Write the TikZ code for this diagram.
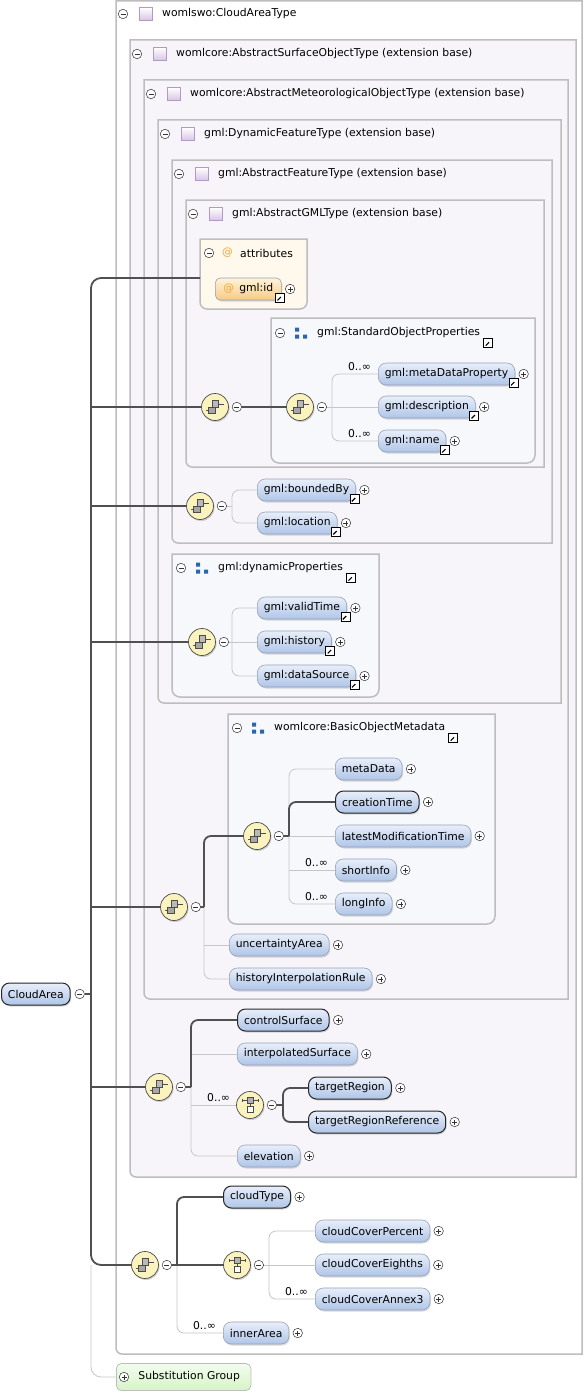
\documentclass[tikz,border=0pt]{standalone}
\usepackage{fontspec}
\setmainfont{DejaVu Sans}
\usetikzlibrary{positioning,shadows}

\definecolor{boxline}{HTML}{BDBDBD}
\definecolor{boxfill}{HTML}{F8F5FA}
\definecolor{grpfill}{HTML}{F6F8FC}
\definecolor{attrfill}{HTML}{FFF8EC}
\definecolor{pilltop}{HTML}{E8EFFA}
\definecolor{pillbot}{HTML}{AFC5E8}
\definecolor{pillline}{HTML}{95A2B8}
\definecolor{idtop}{HTML}{FFF3DA}
\definecolor{idbot}{HTML}{F7CB84}
\definecolor{atsign}{HTML}{EFA83A}
\definecolor{seqfill}{HTML}{FAF3BE}
\definecolor{strongline}{HTML}{505050}
\definecolor{faintline}{HTML}{C6C6C6}
\definecolor{typeline}{HTML}{B39AC4}
\definecolor{typefill}{HTML}{D9C3E4}
\definecolor{grpblue}{HTML}{2A66AE}
\definecolor{substtop}{HTML}{F2FCEE}
\definecolor{substbot}{HTML}{D6F3C8}

\begin{document}
\begin{tikzpicture}[
    x=1pt, y=-1pt,
    font=\fontsize{10.8}{12}\selectfont,
    mybox/.style={draw=boxline, line width=1.5pt, fill=boxfill},
    mygroup/.style={draw=boxline, line width=1.5pt, fill=grpfill},
    myrule/.style={left color=boxfill, middle color=black!18, right color=boxfill},
    mytitle/.style={anchor=west, inner sep=0pt},
    mypill/.style={
        draw=pillline,
        line width=0.6pt,
        rounded corners=8pt,
        top color=pilltop,
        bottom color=pillbot,
        minimum height=22pt,
        inner xsep=6.5pt,
        inner ysep=0pt,
        anchor=west,
        drop shadow={opacity=0.3, shadow xshift=1pt, shadow yshift=-1.5pt}},
    myreq/.style={mypill, draw=black!85, line width=1pt},
    myattr/.style={mypill, top color=idtop, bottom color=idbot, rounded corners=5pt, minimum width=66pt},
    mybtn/.style={circle, draw=black!80, fill=white, line width=0.5pt, inner sep=0pt, minimum size=9.5pt},
    myminus/.style={mybtn, path picture={
        \begin{scope}[shift={(path picture bounding box.center)}]
        \draw[line width=0.6pt] (-2.5pt,0pt) -- (2.5pt,0pt);
        \end{scope}}},
    myplus/.style={mybtn, path picture={
        \begin{scope}[shift={(path picture bounding box.center)}]
        \draw[line width=0.6pt] (-2.5pt,0pt) -- (2.5pt,0pt) (0pt,-2.5pt) -- (0pt,2.5pt);
        \end{scope}}},
    mylink/.style={draw=black, fill=white, line width=0.8pt, inner sep=0pt, minimum size=9pt, path picture={
        \begin{scope}[shift={(path picture bounding box.center)}]
        \draw[line width=1.1pt] (-2.6pt,-2.6pt) -- (1pt,1pt);
        \fill (3pt,3pt) -- (-1.2pt,3pt) -- (3pt,-1.2pt) -- cycle;
        \end{scope}}},
    myseq/.style={circle, draw=black!70, line width=0.7pt, fill=seqfill, minimum size=27pt, inner sep=0pt,
        drop shadow={opacity=0.35, shadow xshift=1pt, shadow yshift=-1.5pt}, path picture={
        \begin{scope}[shift={(path picture bounding box.center)}]
        \draw[line width=0.7pt] (-10pt,-3pt) -- (-6pt,-3pt) (3pt,3pt) -- (10pt,3pt);
        \fill (-11pt,-4pt) rectangle (-9pt,-2pt) (9pt,2pt) rectangle (11pt,4pt);
        \draw[fill=gray!55, line width=0.6pt] (-3pt,0pt) rectangle (3.5pt,6.5pt);
        \draw[fill=gray!70, line width=0.6pt] (-6.5pt,-6.5pt) rectangle (0pt,0pt);
        \end{scope}}},
    mychoice/.style={myseq, path picture={
        \begin{scope}[shift={(path picture bounding box.center)}]
        \draw[line width=0.7pt] (-8pt,4.5pt) -- (8pt,4.5pt) (-8pt,3pt) -- (-8pt,6pt) (8pt,3pt) -- (8pt,6pt)
            (0pt,1.5pt) -- (0pt,-1.5pt);
        \draw[fill=gray!60, line width=0.6pt] (-3pt,1.5pt) rectangle (3pt,7.5pt);
        \draw[fill=white, line width=0.7pt] (-3pt,-7.5pt) rectangle (3pt,-1.5pt);
        \end{scope}}},
    mytype/.style={draw=typeline, line width=0.6pt, top color=white, bottom color=typefill, minimum size=13pt, inner sep=0pt},
    mygrpicon/.style={fill=grpfill, inner sep=0pt, minimum size=13pt, path picture={
        \begin{scope}[shift={(path picture bounding box.center)}]
        \fill[grpblue] (-6pt,1.5pt) rectangle (-2pt,5.5pt) (-6pt,-5.5pt) rectangle (-2pt,-1.5pt)
            (2pt,-5.5pt) rectangle (6pt,-1.5pt);
        \end{scope}}},
    myocc/.style={anchor=base east, inner sep=0pt},
    mysubst/.style={draw=boxline, line width=0.8pt, rounded corners=5pt, top color=substtop, bottom color=substbot,
        minimum height=27pt, inner xsep=0pt, anchor=west},
    mystrong/.style={draw=strongline, line width=1.8pt},
    myfaint/.style={draw=faintline, line width=0.8pt}
    ]

    \useasboundingbox (0,0) rectangle (585,1394);

    % type boxes
    \draw[mybox, fill=white] (116,1) -- (582,1) -- (582,1354) [rounded corners=6pt] -- (116,1354) [sharp corners] -- cycle;
    \shade[left color=white, middle color=black!15, right color=white] (120,28) rectangle (468,30);
    \draw[mybox] (130,40) -- (576,40) -- (576,1177) [rounded corners=6pt] -- (130,1177) [sharp corners] -- cycle;
    \shade[myrule] (134,68) rectangle (466,70);
    \draw[mybox] (144,80) -- (568,80) -- (568,999) [rounded corners=6pt] -- (144,999) [sharp corners] -- cycle;
    \shade[myrule] (148,108) rectangle (464,110);
    \draw[mybox] (158,120) -- (561,120) -- (561,703) [rounded corners=6pt] -- (158,703) [sharp corners] -- cycle;
    \shade[myrule] (162,148) rectangle (462,150);
    \draw[mybox] (172,160) -- (552,160) -- (552,543) [rounded corners=6pt] -- (172,543) [sharp corners] -- cycle;
    \shade[myrule] (176,188) rectangle (460,190);
    \draw[mybox] (186,200) -- (544,200) -- (544,467) [rounded corners=6pt] -- (186,467) [sharp corners] -- cycle;
    \shade[myrule] (190,228) rectangle (458,230);

    % group and attribute boxes
    \draw[draw=boxline, line width=1.5pt, fill=attrfill] (200,239) -- (307,239) [rounded corners=7pt] -- (307,309) -- (200,309) [sharp corners] -- cycle;
    \shade[left color=attrfill, middle color=black!15, right color=attrfill] (205,266) rectangle (285,268);
    \draw[mygroup] (271,318) -- (535,318) [rounded corners=8pt] -- (535,463) -- (271,463) [sharp corners] -- cycle;
    \shade[left color=grpfill, middle color=black!15, right color=grpfill] (275,351) rectangle (470,353);
    \draw[mygroup] (172,554) -- (379,554) [rounded corners=8pt] -- (379,697) -- (172,697) [sharp corners] -- cycle;
    \shade[left color=grpfill, middle color=black!15, right color=grpfill] (176,586) rectangle (330,588);
    \draw[mygroup] (228,714) -- (495,714) [rounded corners=8pt] -- (495,924) -- (228,924) [sharp corners] -- cycle;
    \shade[left color=grpfill, middle color=black!15, right color=grpfill] (232,746) rectangle (430,748);

    % headers
    \node[myminus] (h1) at (123,14) {};
    \node[mytype] (i1) at (146,14) {};
    \node[mytitle] (t1) at (162,14) {womlswo:CloudAreaType};
    \node[myminus] (h2) at (137,54) {};
    \node[mytype] (i2) at (160,54) {};
    \node[mytitle] (t2) at (176,54) {womlcore:AbstractSurfaceObjectType (extension base)};
    \node[myminus] (h3) at (151,94) {};
    \node[mytype] (i3) at (174,94) {};
    \node[mytitle] (t3) at (190,94) {womlcore:AbstractMeteorologicalObjectType (extension base)};
    \node[myminus] (h4) at (165,134) {};
    \node[mytype] (i4) at (188,134) {};
    \node[mytitle] (t4) at (204,134) {gml:DynamicFeatureType (extension base)};
    \node[myminus] (h5) at (179,174) {};
    \node[mytype] (i5) at (202,174) {};
    \node[mytitle] (t5) at (218,174) {gml:AbstractFeatureType (extension base)};
    \node[myminus] (h6) at (193,214) {};
    \node[mytype] (i6) at (216,214) {};
    \node[mytitle] (t6) at (232,214) {gml:AbstractGMLType (extension base)};

    \node[myminus] (h7) at (209,253) {};
    \node[mytitle, text=atsign] (at1) at (222,253) {@};
    \node[mytitle] (a1) at (240,253) {attributes};
    \node[myminus] (h8) at (280,333) {};
    \node[mygrpicon] (k1) at (301,333) {};
    \node[mytitle] (g1) at (317,333) {gml:StandardObjectProperties};
    \node[mylink] (q1) at ([xshift=8pt,yshift=-10pt]g1.east) {};
    \node[myminus] (h9) at (181,568) {};
    \node[mygrpicon] (k2) at (202,568) {};
    \node[mytitle] (g2) at (218,568) {gml:dynamicProperties};
    \node[mylink] (q2) at ([xshift=8pt,yshift=-10pt]g2.east) {};
    \node[myminus] (h10) at (237,728) {};
    \node[mygrpicon] (k3) at (258,728) {};
    \node[mytitle] (g3) at (274,728) {womlcore:BasicObjectMetadata};
    \node[mylink] (q3) at ([xshift=8pt,yshift=-10pt]g3.east) {};

    % root and compositors
    \node[myreq] (root) at (1,994) {CloudArea};
    \node[myminus, right=4pt of root] (x0) {};
    \node[myseq] (s1) at (215,407) {};
    \node[myminus, right=3pt of s1] (x1) {};
    \node[myseq] (s2) at (300,407) {};
    \node[myminus, right=3pt of s2] (x2) {};
    \node[myseq] (s3) at (200,506) {};
    \node[myminus, right=3pt of s3] (x3) {};
    \node[myseq] (s4) at (202,642) {};
    \node[myminus, right=3pt of s4] (x4) {};
    \node[myseq] (s5) at (174,907) {};
    \node[myminus, right=3pt of s5] (x5) {};
    \node[myseq] (s6) at (257,836) {};
    \node[myminus, right=3pt of s6] (x6) {};
    \node[myseq] (s7) at (159,1087) {};
    \node[myminus, right=3pt of s7] (x7) {};
    \node[mychoice] (c1) at (250,1105) {};
    \node[myminus, right=3pt of c1] (x8) {};
    \node[myseq] (s8) at (145,1265) {};
    \node[myminus, right=3pt of s8] (x9) {};
    \node[mychoice] (c2) at (237,1265) {};
    \node[myminus, right=3pt of c2] (x10) {};

    % elements
    \node[myattr] (e1) at (215,289) {{\color{atsign}@}\hspace{5pt}gml:id};
    \node[myplus, right=3.5pt of e1] (p1) {};
    \node[mylink] (l1) at ([xshift=-1.5pt,yshift=2.5pt]e1.south east) {};

    \node[mypill] (e2) at (378,374) {gml:metaDataProperty};
    \node[myplus, right=3.5pt of e2] (p2) {};
    \node[mylink] (l2) at ([xshift=-1.5pt,yshift=2.5pt]e2.south east) {};
    \node[mypill] (e3) at (378,407) {gml:description};
    \node[myplus, right=3.5pt of e3] (p3) {};
    \node[mylink] (l3) at ([xshift=-1.5pt,yshift=2.5pt]e3.south east) {};
    \node[mypill] (e4) at (378,441) {gml:name};
    \node[myplus, right=3.5pt of e4] (p4) {};
    \node[mylink] (l4) at ([xshift=-1.5pt,yshift=2.5pt]e4.south east) {};

    \node[mypill] (e5) at (257,490) {gml:boundedBy};
    \node[myplus, right=3.5pt of e5] (p5) {};
    \node[mylink] (l5) at ([xshift=-1.5pt,yshift=2.5pt]e5.south east) {};
    \node[mypill] (e6) at (257,523) {gml:location};
    \node[myplus, right=3.5pt of e6] (p6) {};
    \node[mylink] (l6) at ([xshift=-1.5pt,yshift=2.5pt]e6.south east) {};

    \node[mypill] (e7) at (257,608) {gml:validTime};
    \node[myplus, right=3.5pt of e7] (p7) {};
    \node[mylink] (l7) at ([xshift=-1.5pt,yshift=2.5pt]e7.south east) {};
    \node[mypill] (e8) at (257,642) {gml:history};
    \node[myplus, right=3.5pt of e8] (p8) {};
    \node[mylink] (l8) at ([xshift=-1.5pt,yshift=2.5pt]e8.south east) {};
    \node[mypill] (e9) at (257,676) {gml:dataSource};
    \node[myplus, right=3.5pt of e9] (p9) {};
    \node[mylink] (l9) at ([xshift=-1.5pt,yshift=2.5pt]e9.south east) {};

    \node[mypill] (e10) at (335,769) {metaData};
    \node[myplus, right=3.5pt of e10] (p10) {};
    \node[myreq] (e11) at (335,802) {creationTime};
    \node[myplus, right=3.5pt of e11] (p11) {};
    \node[mypill] (e12) at (335,836) {latestModificationTime};
    \node[myplus, right=3.5pt of e12] (p12) {};
    \node[mypill] (e13) at (335,870) {shortInfo};
    \node[myplus, right=3.5pt of e13] (p13) {};
    \node[mypill] (e14) at (335,904) {longInfo};
    \node[myplus, right=3.5pt of e14] (p14) {};
    \node[mypill] (e15) at (229,945) {uncertaintyArea};
    \node[myplus, right=3.5pt of e15] (p15) {};
    \node[mypill] (e16) at (229,979) {historyInterpolationRule};
    \node[myplus, right=3.5pt of e16] (p16) {};

    \node[myreq] (e17) at (237,1020) {controlSurface};
    \node[myplus, right=3.5pt of e17] (p17) {};
    \node[mypill] (e18) at (237,1054) {interpolatedSurface};
    \node[myplus, right=3.5pt of e18] (p18) {};
    \node[myreq] (e19) at (308,1088) {targetRegion};
    \node[myplus, right=3.5pt of e19] (p19) {};
    \node[myreq] (e20) at (308,1122) {targetRegionReference};
    \node[myplus, right=3.5pt of e20] (p20) {};
    \node[mypill] (e21) at (237,1156) {elevation};
    \node[myplus, right=3.5pt of e21] (p21) {};

    \node[myreq] (e22) at (223,1197) {cloudType};
    \node[myplus, right=3.5pt of e22] (p22) {};
    \node[mypill] (e23) at (315,1231) {cloudCoverPercent};
    \node[myplus, right=3.5pt of e23] (p23) {};
    \node[mypill] (e24) at (315,1265) {cloudCoverEighths};
    \node[myplus, right=3.5pt of e24] (p24) {};
    \node[mypill] (e25) at (315,1299) {cloudCoverAnnex3};
    \node[myplus, right=3.5pt of e25] (p25) {};
    \node[mypill] (e26) at (223,1333) {innerArea};
    \node[myplus, right=3.5pt of e26] (p26) {};

    \node[mysubst] (sg) at (116,1377) {\hspace{22pt}Substitution Group\hspace{11pt}\mbox{}};
    \node[myplus] (p27) at ([xshift=8pt]sg.west) {};

    % occurrences
    \node[myocc] (n1) at ([xshift=-7pt,yshift=4pt]e2.west) {0..∞};
    \node[myocc] (n2) at ([xshift=-7pt,yshift=4pt]e4.west) {0..∞};
    \node[myocc] (n3) at ([xshift=-7pt,yshift=4pt]e13.west) {0..∞};
    \node[myocc] (n4) at ([xshift=-7pt,yshift=4pt]e14.west) {0..∞};
    \node[myocc] (n5) at ([xshift=-6pt,yshift=4pt]c1.west) {0..∞};
    \node[myocc] (n6) at ([xshift=-7pt,yshift=4pt]e25.west) {0..∞};
    \node[myocc] (n7) at ([xshift=-7pt,yshift=4pt]e26.west) {0..∞};

    % connectors
    \coordinate (tk) at (91,994);
    \coordinate (a0) at (200,278);
    \coordinate (b2) at (332,407);
    \coordinate (b3) at (232,506);
    \coordinate (b4) at (232,642);
    \coordinate (b5) at (204,907);
    \coordinate (b6) at (289,836);
    \coordinate (b7) at (191,1087);
    \coordinate (b8) at (283,1105);
    \coordinate (b9) at (177,1265);
    \coordinate (b10) at (269,1265);

    \draw[myfaint, rounded corners=10pt] (s8.180 -| tk) |- (sg.180);
    \draw[mystrong, rounded corners=10pt] (a0) -| (tk) |- (s8.180);
    \draw[mystrong] (x0.0) -- (tk);
    \draw[mystrong] (s1.180 -| tk) -- (s1.180);
    \draw[mystrong] (s3.180 -| tk) -- (s3.180);
    \draw[mystrong] (s4.180 -| tk) -- (s4.180);
    \draw[mystrong] (s5.180 -| tk) -- (s5.180);
    \draw[mystrong] (s7.180 -| tk) -- (s7.180);

    \draw[mystrong] (x1.0) -- (s2.180);
    \draw[myfaint] (x2.0) -- (e3.180);
    \draw[myfaint, rounded corners=7pt] (b2) |- (e2.180);
    \draw[myfaint, rounded corners=7pt] (b2) |- (e4.180);

    \draw[myfaint] (x3.0) -- (b3);
    \draw[myfaint, rounded corners=7pt] (b3) |- (e5.180);
    \draw[myfaint, rounded corners=7pt] (b3) |- (e6.180);

    \draw[myfaint] (x4.0) -- (e8.180);
    \draw[myfaint, rounded corners=7pt] (b4) |- (e7.180);
    \draw[myfaint, rounded corners=7pt] (b4) |- (e9.180);

    \draw[myfaint, rounded corners=7pt] (b5) |- (e16.180);
    \draw[myfaint] (e15.180 -| b5) -- (e15.180);
    \draw[mystrong] (x5.0) -- (b5);
    \draw[mystrong, rounded corners=7pt] (b5) |- (s6.180);

    \draw[myfaint, rounded corners=7pt] (b6) |- (e10.180);
    \draw[myfaint, rounded corners=7pt] (b6) |- (e14.180);
    \draw[myfaint] (e13.180 -| b6) -- (e13.180);
    \draw[myfaint] (b6) -- (e12.180);
    \draw[mystrong] (x6.0) -- (b6);
    \draw[mystrong, rounded corners=7pt] (b6) |- (e11.180);

    \draw[myfaint, rounded corners=7pt] (b7) |- (e21.180);
    \draw[myfaint] (e18.180 -| b7) -- (e18.180);
    \draw[myfaint] (c1.180 -| b7) -- (c1.180);
    \draw[mystrong] (x7.0) -- (b7);
    \draw[mystrong, rounded corners=7pt] (b7) |- (e17.180);

    \draw[mystrong] (x8.0) -- (b8);
    \draw[mystrong, rounded corners=7pt] (b8) |- (e19.180);
    \draw[mystrong, rounded corners=7pt] (b8) |- (e20.180);

    \draw[myfaint, rounded corners=7pt] (b9) |- (e26.180);
    \draw[mystrong] (x9.0) -- (c2.180);
    \draw[mystrong, rounded corners=7pt] (b9) |- (e22.180);

    \draw[myfaint] (x10.0) -- (e24.180);
    \draw[myfaint, rounded corners=7pt] (b10) |- (e23.180);
    \draw[myfaint, rounded corners=7pt] (b10) |- (e25.180);
\end{tikzpicture}
\end{document}
